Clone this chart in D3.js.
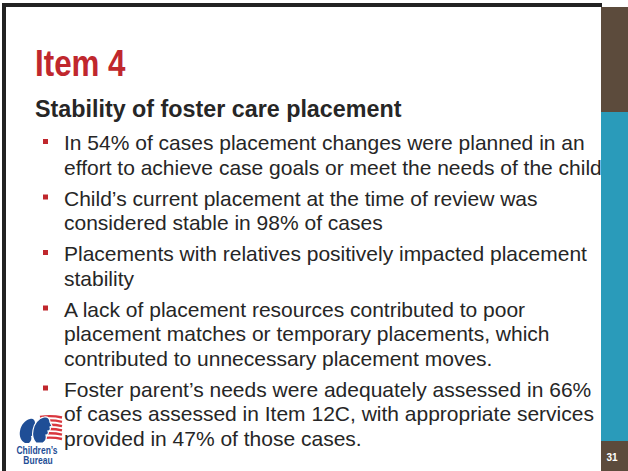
<!DOCTYPE html>
<html>
<head>
<meta charset="utf-8">
<script src="https://cdn.jsdelivr.net/npm/d3@7"></script>
<style>
  body { margin: 0; background: #fff; }
  svg { display: block; }
</style>
</head>
<body>
<div id="slide"></div>
<script>
const FRAME_WIDTH = 628;
const FRAME_HEIGHT = 471;

// slide content
const TITLE = "Item 4";
const SUBTITLE = "Stability of foster care placement";
const BULLETS = [
  ["In 54% of cases placement changes were planned in an",
   "effort to achieve case goals or meet the needs of the child"],
  ["Child\u2019s current placement at the time of review was",
   "considered stable in 98% of cases"],
  ["Placements with relatives positively impacted placement",
   "stability"],
  ["A lack of placement resources contributed to poor",
   "placement matches or temporary placements, which",
   "contributed to unnecessary placement moves."],
  ["Foster parent\u2019s needs were adequately assessed in 66%",
   "of cases assessed in Item 12C, with appropriate services",
   "provided in 47% of those cases."]
];
const PAGE_NUM = "31";

const RED = "#c0272d";
const TEXT = "#262626";
const BROWN = "#5c4b3c";
const TEAL = "#2a9bba";
const LOGO_BLUE = "#1f4e96";

const SVG = d3.select("#slide")
  .append("svg")
    .attr("width", FRAME_WIDTH)
    .attr("height", FRAME_HEIGHT);

// borders
SVG.append("rect").attr("x", 0).attr("y", 0).attr("width", FRAME_WIDTH).attr("height", FRAME_HEIGHT).attr("fill", "#fff");
SVG.append("rect").attr("x", 2).attr("y", 3).attr("width", 600).attr("height", 4).attr("fill", "#222");
SVG.append("rect").attr("x", 2).attr("y", 3).attr("width", 4).attr("height", FRAME_HEIGHT).attr("fill", "#222");

// right side bar
SVG.append("rect").attr("x", 601).attr("y", 7).attr("width", 27).attr("height", 105).attr("fill", BROWN);
SVG.append("rect").attr("x", 601).attr("y", 112).attr("width", 27).attr("height", 329).attr("fill", TEAL);
SVG.append("rect").attr("x", 601).attr("y", 441).attr("width", 27).attr("height", 30).attr("fill", BROWN);
SVG.append("text")
  .attr("x", 612).attr("y", 461)
  .attr("text-anchor", "middle")
  .attr("font-family", "Liberation Sans, Arial, sans-serif")
  .attr("font-weight", "bold")
  .attr("font-size", "10px")
  .attr("fill", "#fff")
  .text(PAGE_NUM);

// title (narrow bold, no narrow font here so squeeze it)
SVG.append("text")
  .attr("transform", "translate(35,76) scale(0.87,1)")
  .attr("font-family", "Liberation Sans, Arial, sans-serif")
  .attr("font-weight", "bold")
  .attr("font-size", "36px")
  .attr("fill", RED)
  .text(TITLE);

SVG.append("text")
  .attr("x", 35).attr("y", 117)
  .attr("font-family", "Liberation Sans, Arial, sans-serif")
  .attr("font-weight", "bold")
  .attr("font-size", "23.3px")
  .attr("fill", TEXT)
  .text(SUBTITLE);

// bullet layout
const LINE_H = 24.5;
const GAP = 6.5;
const lines = [];
let y = 150;
BULLETS.forEach((b, bi) => {
  b.forEach((t, li) => {
    lines.push({text: t, y: y, first: li == 0});
    y += LINE_H;
  });
  y += GAP;
});

const body = SVG.append("g");

// Children's Bureau logo (rough) - drawn under the text like the slide
const logo = SVG.insert("g", "g").attr("transform", "translate(13,414)");
for (let i = 0; i < 6; i++) {
  logo.append("path")
    .attr("d", "M27," + (3 + i * 4.3) + " Q38," + (1 + i * 4.3) + " 49," + (3.5 + i * 4.3))
    .attr("stroke", "#d9363e")
    .attr("stroke-width", 2.4)
    .attr("fill", "none");
}
// two profile heads facing right
logo.append("path")
  .attr("d", "M12,29 C8,27 6,22 7,17 C8,11 12,6 17,5 C20,4 22,6 22,9 L24,13 L22,14 C23,16 22,18 20,18 C21,20 20,22 18,22 C19,25 18,27 16,29 Z")
  .attr("fill", LOGO_BLUE);
logo.append("path")
  .attr("d", "M23,29 C20,26 19,21 20,16 C21,10 25,4 31,3 C35,2 37,5 37,8 L39,12 L37,13 C38,15 37,17 35,17 C36,19 35,21 33,21 C34,24 33,27 30,29 Z")
  .attr("fill", LOGO_BLUE)
  .attr("stroke", "#fff")
  .attr("stroke-width", 1.2);
logo.append("text")
  .attr("transform", "translate(24,40) scale(0.85,1)")
  .attr("text-anchor", "middle")
  .attr("font-family", "Liberation Sans, Arial, sans-serif")
  .attr("font-weight", "bold")
  .attr("font-size", "10px")
  .attr("fill", LOGO_BLUE)
  .text("Children\u2019s");
logo.append("text")
  .attr("transform", "translate(25,50) scale(0.85,1)")
  .attr("text-anchor", "middle")
  .attr("font-family", "Liberation Sans, Arial, sans-serif")
  .attr("font-weight", "bold")
  .attr("font-size", "10px")
  .attr("fill", LOGO_BLUE)
  .text("Bureau");

body.selectAll("text")
  .data(lines)
  .enter()
  .append("text")
    .attr("x", 64)
    .attr("y", (d) => { return d.y; })
    .attr("font-family", "Liberation Sans, Arial, sans-serif")
    .attr("font-size", "21px")
    .attr("fill", TEXT)
    .text((d) => { return d.text; });

body.selectAll("rect")
  .data(lines.filter((d) => { return d.first; }))
  .enter()
  .append("rect")
    .attr("x", 43)
    .attr("y", (d) => { return d.y - 11; })
    .attr("width", 5)
    .attr("height", 5)
    .attr("fill", RED);
</script>
</body>
</html>
